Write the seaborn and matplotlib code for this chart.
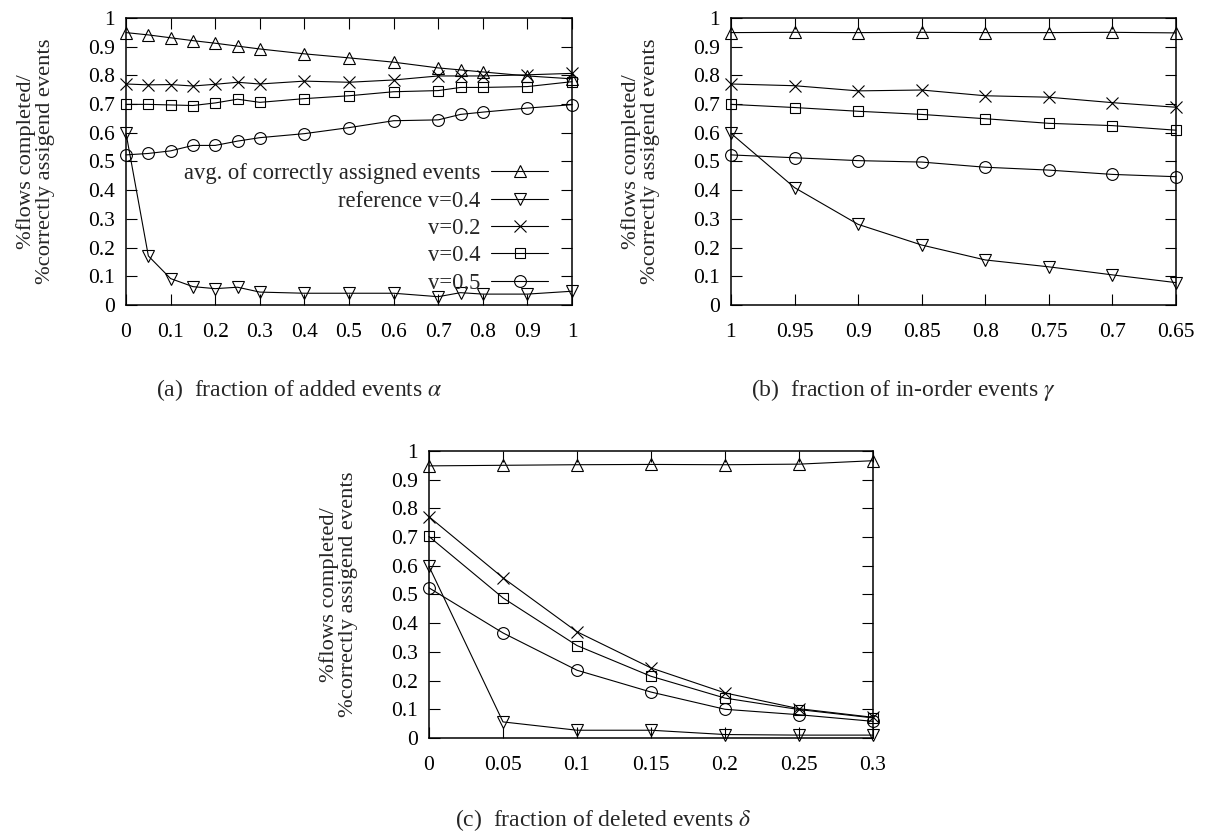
import matplotlib
matplotlib.use('Agg')
import matplotlib.pyplot as plt
import seaborn as sns

# Valores
alpha = [0, 0.05, 0.1, 0.15, 0.2, 0.25, 0.3, 0.4, 0.5, 0.6, 0.7, 0.75, 0.8, 0.9, 1.0]
a_avg = [0.949, 0.941, 0.931, 0.921, 0.912, 0.902, 0.892, 0.875, 0.861, 0.846, 0.826, 0.819, 0.812, 0.798, 0.788]
a_ref = [0.598, 0.171, 0.092, 0.064, 0.057, 0.062, 0.045, 0.041, 0.041, 0.041, 0.029, 0.043, 0.038, 0.038, 0.048]
a_v02 = [0.770, 0.767, 0.768, 0.763, 0.769, 0.776, 0.770, 0.780, 0.776, 0.784, 0.798, 0.798, 0.798, 0.802, 0.807]
a_v04 = [0.699, 0.699, 0.697, 0.695, 0.704, 0.717, 0.706, 0.719, 0.729, 0.743, 0.747, 0.758, 0.758, 0.761, 0.778]
a_v05 = [0.523, 0.528, 0.537, 0.556, 0.556, 0.571, 0.583, 0.597, 0.618, 0.642, 0.645, 0.664, 0.672, 0.686, 0.698]

gamma = [1.0, 0.95, 0.9, 0.85, 0.8, 0.75, 0.7, 0.65]
b_avg = [0.949, 0.950, 0.949, 0.950, 0.949, 0.949, 0.950, 0.948]
b_ref = [0.598, 0.409, 0.281, 0.209, 0.157, 0.133, 0.105, 0.078]
b_v02 = [0.770, 0.764, 0.746, 0.749, 0.729, 0.724, 0.705, 0.689]
b_v04 = [0.699, 0.688, 0.675, 0.664, 0.649, 0.633, 0.625, 0.609]
b_v05 = [0.523, 0.513, 0.503, 0.498, 0.480, 0.470, 0.455, 0.447]

delta = [0, 0.05, 0.1, 0.15, 0.2, 0.25, 0.3]
c_avg = [0.948, 0.950, 0.952, 0.953, 0.952, 0.954, 0.966]
c_ref = [0.598, 0.056, 0.027, 0.027, 0.012, 0.010, 0.010]
c_v02 = [0.771, 0.558, 0.370, 0.244, 0.157, 0.102, 0.072]
c_v04 = [0.702, 0.488, 0.322, 0.215, 0.139, 0.099, 0.070]
c_v05 = [0.523, 0.366, 0.236, 0.160, 0.100, 0.081, 0.058]

series_labels = ['avg. of correctly assigned events', 'reference v=0.4', 'v=0.2', 'v=0.4', 'v=0.5']
y_ticks = [0, 0.1, 0.2, 0.3, 0.4, 0.5, 0.6, 0.7, 0.8, 0.9, 1.0]
y_ticklabels = ['0', '0.1', '0.2', '0.3', '0.4', '0.5', '0.6', '0.7', '0.8', '0.9', '1']
a_ticks = [0, 0.1, 0.2, 0.3, 0.4, 0.5, 0.6, 0.7, 0.8, 0.9, 1.0]
a_ticklabels = ['0', '0.1', '0.2', '0.3', '0.4', '0.5', '0.6', '0.7', '0.8', '0.9', '1']
b_ticklabels = ['1', '0.95', '0.9', '0.85', '0.8', '0.75', '0.7', '0.65']
c_ticklabels = ['0', '0.05', '0.1', '0.15', '0.2', '0.25', '0.3']
ylabel = '%flows completed/\n%correctly assigend events'
captions = ['(a)  fraction of added events $\\alpha$',
            '(b)  fraction of in-order events $\\gamma$',
            '(c)  fraction of deleted events $\\delta$']

sns.set_theme(style='ticks')
plt.rcParams['font.family'] = ['Liberation Serif', 'DejaVu Serif']
plt.rcParams['mathtext.fontset'] = 'stix'
plt.rcParams['axes.edgecolor'] = 'black'
plt.rcParams['axes.linewidth'] = 1.1

FS = 15.5
markers = ['^', 'v', 'x', 's', 'o']
msizes = [8.5, 8.5, 8.5, 7.5, 8.5]

fig = plt.figure(figsize=(12.05, 8.32), dpi=100)
ax_a = fig.add_axes([0.1046, 0.6334, 0.3701, 0.3450])
ax_b = fig.add_axes([0.6066, 0.6334, 0.3693, 0.3450])
ax_c = fig.add_axes([0.3560, 0.1130, 0.3685, 0.3450])


def draw_panel(ax, x, ys, with_label=False):
    for y, m, ms, lab in zip(ys, markers, msizes, series_labels):
        sns.lineplot(x=x, y=y, ax=ax, color='black', lw=0.8,
                     marker=m, markersize=ms, markerfacecolor='none',
                     markeredgecolor='black', markeredgewidth=0.8,
                     label=lab if with_label else None, legend=False,
                     clip_on=False)
    ax.set_ylim(0, 1)
    ax.set_yticks(y_ticks)
    ax.set_yticklabels(y_ticklabels)
    ax.set_ylabel(ylabel, fontsize=16.2, linespacing=0.95, labelpad=24)
    ax.set_xlabel('')
    ax.tick_params(axis='both', direction='in', length=8, width=0.8,
                   top=True, right=True, labelsize=FS, colors='black')
    ax.tick_params(axis='y', pad=8)
    ax.tick_params(axis='x', pad=13)
    for s in ax.spines.values():
        s.set_color('black')
        s.set_linewidth(1.1)


draw_panel(ax_a, alpha, [a_avg, a_ref, a_v02, a_v04, a_v05], with_label=True)
ax_a.set_xlim(0, 1)
ax_a.set_xticks(a_ticks)
ax_a.set_xticklabels(a_ticklabels)
ax_a.legend(loc='lower right', bbox_to_anchor=(0.946, 0.040), frameon=False,
            markerfirst=False, fontsize=16.3, handlelength=2.5, handletextpad=0.5,
            labelspacing=0.28, borderpad=0, borderaxespad=0)

draw_panel(ax_b, gamma, [b_avg, b_ref, b_v02, b_v04, b_v05])
ax_b.set_xlim(1.0, 0.65)
ax_b.set_xticks(gamma)
ax_b.set_xticklabels(b_ticklabels)

draw_panel(ax_c, delta, [c_avg, c_ref, c_v02, c_v04, c_v05])
ax_c.set_xlim(0, 0.3)
ax_c.set_xticks(delta)
ax_c.set_xticklabels(c_ticklabels)

fig.text(299 / 1205, 1 - 390 / 832, captions[0], ha='center', va='center', fontsize=17)
fig.text(0.75, 1 - 390 / 832, captions[1], ha='center', va='center', fontsize=17)
fig.text(603 / 1205, 1 - 820 / 832, captions[2], ha='center', va='center', fontsize=17)

plt.savefig('out.png', dpi=100)
plt.close()
